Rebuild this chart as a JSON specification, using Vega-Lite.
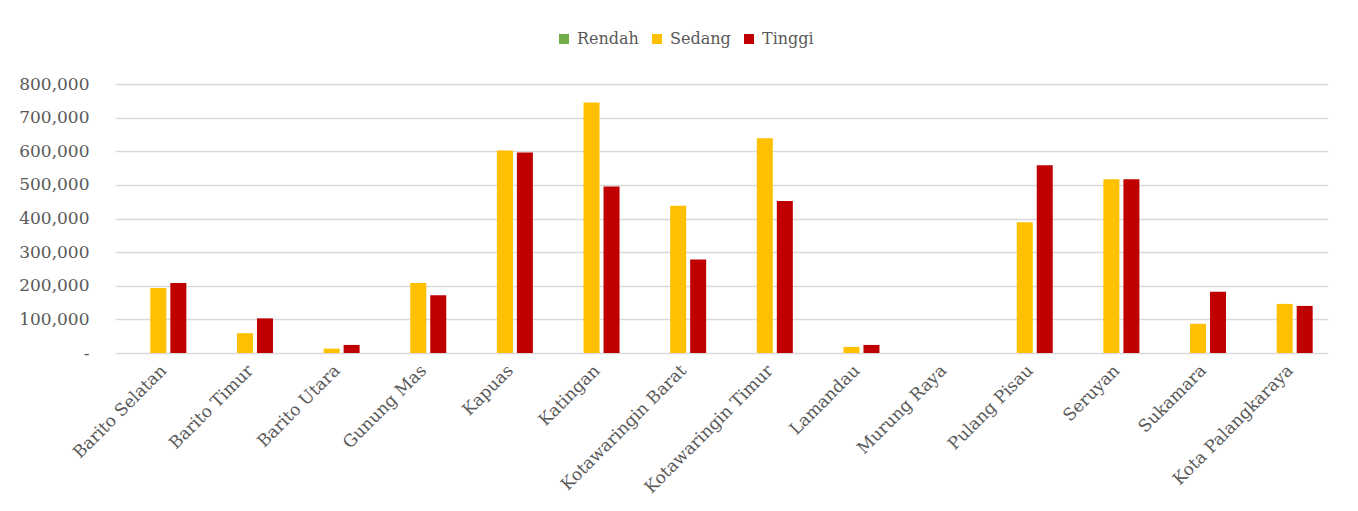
{
  "$schema": "https://vega.github.io/schema/vega-lite/v6.json",
  "autosize": {"type": "none"},
  "padding": {"left": 115, "top": 84, "right": 30, "bottom": 158},
  "width": 1213,
  "height": 269,
  "background": "white",
  "config": {
    "font": "DejaVu Serif",
    "view": {"stroke": null},
    "axis": {"labelFont": "DejaVu Serif", "labelFontSize": 17, "labelColor": "#595959", "ticks": false, "domain": false, "title": null},
    "legend": {"labelFont": "DejaVu Serif", "labelFontSize": 16, "labelColor": "#595959"}
  },
  "data": {
    "values": [
      {"kab": "Barito Selatan", "kelas": "Rendah", "luas": 0},
      {"kab": "Barito Selatan", "kelas": "Sedang", "luas": 193000},
      {"kab": "Barito Selatan", "kelas": "Tinggi", "luas": 208000},
      {"kab": "Barito Timur", "kelas": "Rendah", "luas": 0},
      {"kab": "Barito Timur", "kelas": "Sedang", "luas": 59000},
      {"kab": "Barito Timur", "kelas": "Tinggi", "luas": 103000},
      {"kab": "Barito Utara", "kelas": "Rendah", "luas": 0},
      {"kab": "Barito Utara", "kelas": "Sedang", "luas": 13000},
      {"kab": "Barito Utara", "kelas": "Tinggi", "luas": 24000},
      {"kab": "Gunung Mas", "kelas": "Rendah", "luas": 0},
      {"kab": "Gunung Mas", "kelas": "Sedang", "luas": 208000},
      {"kab": "Gunung Mas", "kelas": "Tinggi", "luas": 172000},
      {"kab": "Kapuas", "kelas": "Rendah", "luas": 0},
      {"kab": "Kapuas", "kelas": "Sedang", "luas": 602000},
      {"kab": "Kapuas", "kelas": "Tinggi", "luas": 596000},
      {"kab": "Katingan", "kelas": "Rendah", "luas": 0},
      {"kab": "Katingan", "kelas": "Sedang", "luas": 745000},
      {"kab": "Katingan", "kelas": "Tinggi", "luas": 495000},
      {"kab": "Kotawaringin Barat", "kelas": "Rendah", "luas": 0},
      {"kab": "Kotawaringin Barat", "kelas": "Sedang", "luas": 438000},
      {"kab": "Kotawaringin Barat", "kelas": "Tinggi", "luas": 278000},
      {"kab": "Kotawaringin Timur", "kelas": "Rendah", "luas": 0},
      {"kab": "Kotawaringin Timur", "kelas": "Sedang", "luas": 639000},
      {"kab": "Kotawaringin Timur", "kelas": "Tinggi", "luas": 452000},
      {"kab": "Lamandau", "kelas": "Rendah", "luas": 0},
      {"kab": "Lamandau", "kelas": "Sedang", "luas": 18000},
      {"kab": "Lamandau", "kelas": "Tinggi", "luas": 24000},
      {"kab": "Murung Raya", "kelas": "Rendah", "luas": 0},
      {"kab": "Murung Raya", "kelas": "Sedang", "luas": 0},
      {"kab": "Murung Raya", "kelas": "Tinggi", "luas": 0},
      {"kab": "Pulang Pisau", "kelas": "Rendah", "luas": 0},
      {"kab": "Pulang Pisau", "kelas": "Sedang", "luas": 389000},
      {"kab": "Pulang Pisau", "kelas": "Tinggi", "luas": 558000},
      {"kab": "Seruyan", "kelas": "Rendah", "luas": 0},
      {"kab": "Seruyan", "kelas": "Sedang", "luas": 517000},
      {"kab": "Seruyan", "kelas": "Tinggi", "luas": 517000},
      {"kab": "Sukamara", "kelas": "Rendah", "luas": 0},
      {"kab": "Sukamara", "kelas": "Sedang", "luas": 87000},
      {"kab": "Sukamara", "kelas": "Tinggi", "luas": 182000},
      {"kab": "Kota Palangkaraya", "kelas": "Rendah", "luas": 0},
      {"kab": "Kota Palangkaraya", "kelas": "Sedang", "luas": 146000},
      {"kab": "Kota Palangkaraya", "kelas": "Tinggi", "luas": 140000}
    ]
  },
  "mark": {"type": "bar"},
  "encoding": {
    "x": {
      "field": "kab", "type": "nominal", "sort": null,
      "scale": {"paddingInner": 0.3075, "paddingOuter": 0.15375},
      "axis": {"labelAngle": -45, "labelPadding": 9, "grid": false}
    },
    "xOffset": {
      "field": "kelas", "type": "nominal", "sort": ["Rendah", "Sedang", "Tinggi"],
      "scale": {"paddingInner": 0.2, "paddingOuter": 0.1}
    },
    "y": {
      "field": "luas", "type": "quantitative",
      "scale": {"domain": [0, 800000], "nice": false},
      "axis": {
        "values": [0, 100000, 200000, 300000, 400000, 500000, 600000, 700000, 800000],
        "labelExpr": "datum.value == 0 ? '-\u00a0\u00a0' : format(datum.value, ',')",
        "labelPadding": 26, "grid": true, "gridColor": "#d9d9d9", "gridWidth": 1.5
      }
    },
    "color": {
      "field": "kelas", "type": "nominal",
      "scale": {"domain": ["Rendah", "Sedang", "Tinggi"], "range": ["#70AD47", "#FFC000", "#C00000"]},
      "legend": {
        "title": null, "orient": "none", "direction": "horizontal",
        "legendX": 441, "legendY": -53,
        "symbolType": "square", "symbolSize": 100, "symbolStrokeWidth": 0,
        "columnPadding": 10, "labelOffset": 5
      }
    }
  }
}
